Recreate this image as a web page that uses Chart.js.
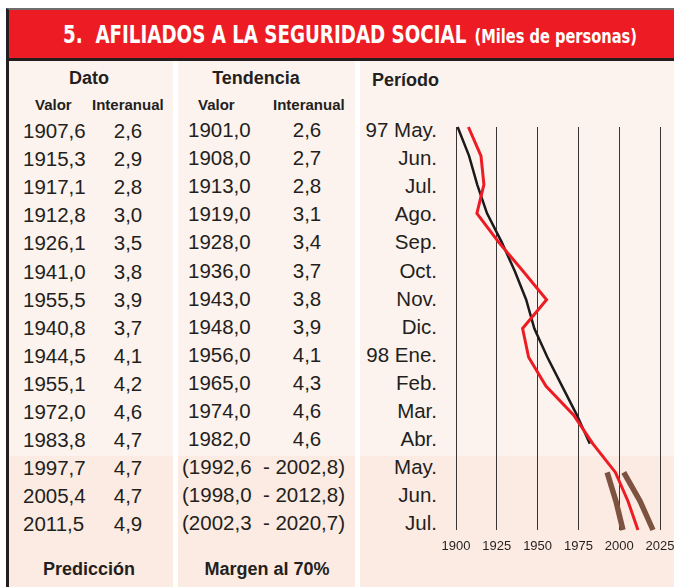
<!DOCTYPE html>
<html>
<head>
<meta charset="utf-8">
<script src="https://cdn.jsdelivr.net/npm/chart.js@4.4.1/dist/chart.umd.min.js"></script>
<style>
  body { margin: 0; width: 674px; height: 587px; background: #fff; overflow: hidden; position: relative;
         font-family: "Liberation Sans", Arial, sans-serif; color: #231f20; }
  .abs { position: absolute; white-space: nowrap; }
  #titulo { left: 6px; top: 8px; width: 668px; height: 53px; box-sizing: border-box;
            background: #ed1c24; border-top: 2px solid #6d6d6d; border-bottom: 3px solid #231f20;
            border-left: 3px solid #231f20; color: #fff; overflow: hidden; }
  #tituloTxt { position: absolute; left: 54px; top: 0; line-height: 50px; transform-origin: 0 50%;
               font-family: "DejaVu Sans Condensed", "DejaVu Sans", sans-serif; font-weight: bold; white-space: nowrap; }
  #tituloTxt .t1 { font-size: 25px; }
  #tituloTxt .t2 { font-size: 20px; }
  .panel { top: 61px; height: 526px; background: linear-gradient(#fdf3ee 0, #fdf3ee 395px, #fcebe2 395px, #fcebe2 100%); }
  .h1 { font-weight: bold; font-size: 18px; line-height: 20px; }
  .h2 { font-weight: bold; font-size: 15px; line-height: 18px; }
  .fila { font-size: 20.5px; line-height: 28px; height: 28px; }
  .c { transform: translateX(-50%); }
  .r { transform: translateX(-100%); }
</style>
</head>
<body>
<div id="titulo" class="abs"><div id="tituloTxt"><span class="t1">5.&nbsp; AFILIADOS A LA SEGURIDAD SOCIAL</span>&nbsp;&nbsp;<span class="t2">(Miles de personas)</span></div></div>
<div class="abs" style="left:6px;top:61px;width:3px;height:526px;background:#231f20"></div>
<div class="abs panel" style="left:9px;width:164px"></div>
<div class="abs panel" style="left:178px;width:177px"></div>
<div class="abs panel" style="left:360px;width:314px"></div>

<div class="abs h1 c" style="left:89px;top:68px">Dato</div>
<div class="abs h1 c" style="left:256px;top:68px">Tendencia</div>
<div class="abs h1" style="left:372px;top:70px">Período</div>
<div class="abs h2" style="left:35px;top:96px">Valor</div>
<div class="abs h2" style="left:92px;top:96px">Interanual</div>
<div class="abs h2" style="left:198px;top:96px">Valor</div>
<div class="abs h2" style="left:273px;top:96px">Interanual</div>
<div class="abs h1 c" style="left:89px;top:559px">Predicción</div>
<div class="abs h1 c" style="left:267px;top:559px">Margen al 70%</div>

<div id="filas"></div>
<canvas id="grafico" class="abs" width="260" height="460" style="left:430px;top:110px;width:260px;height:460px"></canvas>

<script>
// Datos: afiliados (miles de personas), mayo 1997 - julio 1998
const periodos = ['97 May.', 'Jun.', 'Jul.', 'Ago.', 'Sep.', 'Oct.', 'Nov.', 'Dic.',
                  '98 Ene.', 'Feb.', 'Mar.', 'Abr.', 'May.', 'Jun.', 'Jul.'];
const datoValor = [1907.6, 1915.3, 1917.1, 1912.8, 1926.1, 1941.0, 1955.5, 1940.8,
                   1944.5, 1955.1, 1972.0, 1983.8, 1997.7, 2005.4, 2011.5];
const datoInteranual = [2.6, 2.9, 2.8, 3.0, 3.5, 3.8, 3.9, 3.7, 4.1, 4.2, 4.6, 4.7, 4.7, 4.7, 4.9];
const tendValor = [1901.0, 1908.0, 1913.0, 1919.0, 1928.0, 1936.0, 1943.0, 1948.0,
                   1956.0, 1965.0, 1974.0, 1982.0];
const tendInteranual = [2.6, 2.7, 2.8, 3.1, 3.4, 3.7, 3.8, 3.9, 4.1, 4.3, 4.6, 4.6];
const margenBajo = [1992.6, 1998.0, 2002.3];
const margenAlto = [2002.8, 2012.8, 2020.7];
const ticksX = [1900, 1925, 1950, 1975, 2000, 2025];

const fmt = v => v.toFixed(1).replace('.', ',');

// ajustar el ancho del título al de la cabecera original
const tt = document.getElementById('tituloTxt');
tt.style.transform = 'scaleX(' + (574 / tt.getBoundingClientRect().width) + ')';

// tabla de texto
const filas = document.getElementById('filas');
function celda(txt, x, top, cls) {
  const d = document.createElement('div');
  d.className = 'abs fila ' + (cls || '');
  d.style.left = x + 'px';
  d.style.top = top + 'px';
  d.textContent = txt;
  filas.appendChild(d);
}
const nReal = tendValor.length;
periodos.forEach((p, i) => {
  const top = 117 + i * 28.1;
  celda(fmt(datoValor[i]), 23, top);
  celda(fmt(datoInteranual[i]), 128, top, 'c');
  if (i < nReal) {
    celda(fmt(tendValor[i]), 188, top - 1);
    celda(fmt(tendInteranual[i]), 307, top - 1, 'c');
  } else {
    const k = i - nReal;
    celda('(' + fmt(margenBajo[k]) + '  - ' + fmt(margenAlto[k]) + ')', 182, top - 1);
    filas.lastChild.style.whiteSpace = 'pre';
  }
  celda(p, 437, top - 1, 'r');
});

// series del gráfico (x = valor, y = índice del periodo)
const serieDato = datoValor.map((v, i) => ({ x: v, y: i }));
const serieTend = tendValor.map((v, i) => ({ x: v, y: i }));
const serieBajo = margenBajo.map((v, i) => ({ x: v, y: nReal + i }));
const serieAlto = margenAlto.map((v, i) => ({ x: v, y: nReal + i }));

const linea = (data, color, w) => ({
  data: data, borderColor: color, borderWidth: w, showLine: true,
  pointRadius: 0, tension: 0, clip: false, fill: false
});

new Chart(document.getElementById('grafico').getContext('2d'), {
  type: 'scatter',
  data: {
    datasets: [
      linea(serieBajo, '#7d5240', 5.5),
      linea(serieAlto, '#7d5240', 5.5),
      linea(serieDato, '#ed1c24', 3),
      linea(serieTend, '#1c1a1a', 2.5)
    ]
  },
  options: {
    responsive: false,
    animation: false,
    layout: { padding: { left: 26, right: 30, top: 17, bottom: 10 } },
    plugins: { legend: { display: false }, tooltip: { enabled: false } },
    scales: {
      x: {
        type: 'linear', min: 1900, max: 2025,
        afterBuildTicks: s => { s.ticks = ticksX.map(v => ({ value: v })); },
        afterFit: s => { s.height = 30; },
        grid: { color: '#3a3535', lineWidth: 1, drawTicks: false },
        border: { display: false },
        ticks: { padding: 9, color: '#231f20', font: { family: 'Liberation Sans', size: 13 },
                 callback: v => String(v), maxRotation: 0, autoSkip: false }
      },
      y: {
        type: 'linear', min: 0, max: periodos.length - 1, reverse: true, display: false
      }
    }
  }
});
</script>
</body>
</html>
